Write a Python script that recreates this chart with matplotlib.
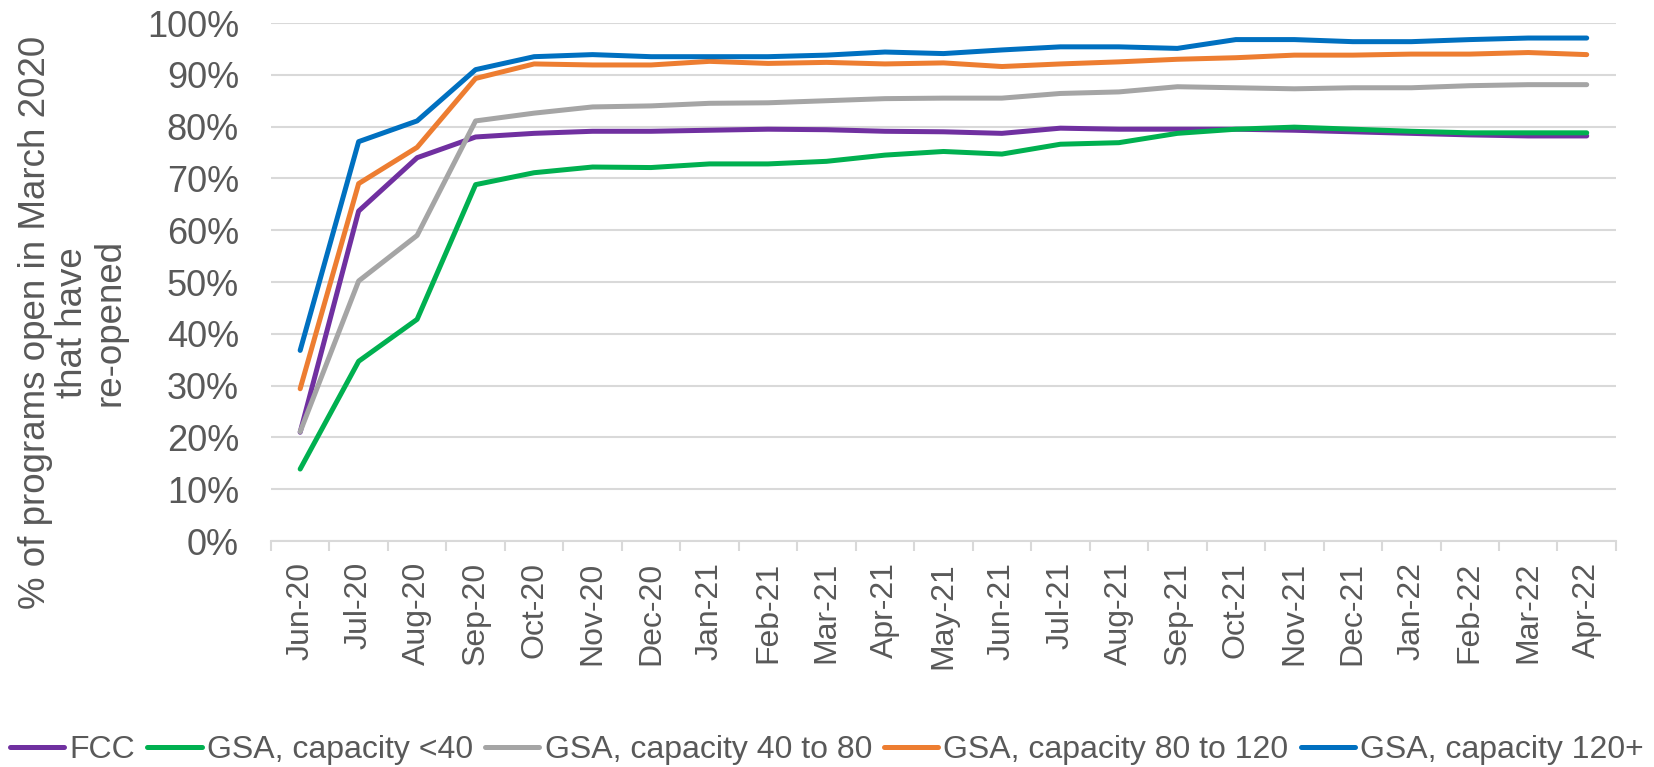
import matplotlib
matplotlib.use("Agg")
import matplotlib.pyplot as plt
from matplotlib.ticker import PercentFormatter, FixedLocator

plt.rcParams['font.family'] = ['Liberation Sans', 'DejaVu Sans']

months = ['Jun-20', 'Jul-20', 'Aug-20', 'Sep-20', 'Oct-20', 'Nov-20', 'Dec-20',
          'Jan-21', 'Feb-21', 'Mar-21', 'Apr-21', 'May-21', 'Jun-21', 'Jul-21',
          'Aug-21', 'Sep-21', 'Oct-21', 'Nov-21', 'Dec-21', 'Jan-22', 'Feb-22',
          'Mar-22', 'Apr-22']

# % of programs re-opened, per series
fcc = [21.0, 63.7, 74.0, 78.0, 78.7, 79.1, 79.1, 79.3, 79.5, 79.4, 79.1, 79.0,
       78.7, 79.7, 79.5, 79.5, 79.5, 79.3, 79.0, 78.7, 78.4, 78.2, 78.2]
gsa_lt40 = [13.9, 34.7, 42.8, 68.8, 71.1, 72.2, 72.1, 72.8, 72.8, 73.3, 74.5, 75.2,
            74.7, 76.6, 76.9, 78.7, 79.5, 79.9, 79.5, 79.1, 78.8, 78.8, 78.8]
gsa_40_80 = [21.1, 50.2, 59.0, 81.1, 82.6, 83.8, 84.0, 84.5, 84.6, 85.0, 85.4, 85.5,
             85.5, 86.4, 86.7, 87.7, 87.5, 87.3, 87.5, 87.5, 87.9, 88.1, 88.1]
gsa_80_120 = [29.4, 69.0, 76.0, 89.3, 92.1, 91.9, 91.9, 92.6, 92.2, 92.4, 92.1, 92.3,
              91.6, 92.1, 92.5, 93.0, 93.3, 93.8, 93.8, 94.0, 94.0, 94.3, 93.9]
gsa_120 = [36.8, 77.1, 81.1, 91.0, 93.5, 93.9, 93.5, 93.5, 93.5, 93.8, 94.4, 94.1,
           94.8, 95.4, 95.4, 95.1, 96.8, 96.8, 96.4, 96.4, 96.8, 97.1, 97.1]

series = [
    ('FCC', fcc, '#7030A0'),
    ('GSA, capacity <40', gsa_lt40, '#00B050'),
    ('GSA, capacity 40 to 80', gsa_40_80, '#A5A5A5'),
    ('GSA, capacity 80 to 120', gsa_80_120, '#ED7D31'),
    ('GSA, capacity 120+', gsa_120, '#0070C0'),
]

text_col = '#595959'
grid_col = '#D9D9D9'

fig = plt.figure(figsize=(16.54, 7.67), dpi=100)
ax = fig.add_axes([0.1638, 0.2946, 0.8132, 0.6754])

x = list(range(len(months)))
for name, vals, col in series:
    ax.plot(x, [v / 100 for v in vals], color=col, lw=3.6, label=name,
            solid_capstyle='round', solid_joinstyle='round')

ax.set_xlim(-0.5, len(months) - 0.5)
ax.set_ylim(0, 1)
ax.set_yticks([i / 10 for i in range(11)])
ax.yaxis.set_major_formatter(PercentFormatter(1.0, decimals=0))
ax.grid(axis='y', color=grid_col, lw=1.5)
ax.set_axisbelow(True)

ax.set_xticks(x)
ax.set_xticklabels(months, rotation=90)
ax.xaxis.set_minor_locator(FixedLocator([i - 0.5 for i in range(len(months) + 1)]))
ax.tick_params(axis='x', which='major', length=0, pad=15, labelsize=23, labelcolor=text_col)
ax.tick_params(axis='x', which='minor', length=7, width=1.5, color=grid_col, direction='out')
ax.tick_params(axis='y', length=0, pad=23, labelsize=26, labelcolor=text_col)

for s in ['top', 'right', 'left']:
    ax.spines[s].set_visible(False)
ax.spines['bottom'].set_color(grid_col)
ax.spines['bottom'].set_linewidth(1.5)

fig.text(0.044, 0.58, '% of programs open in March 2020\nthat have\nre-opened',
         rotation=90, ha='center', va='center', multialignment='center',
         fontsize=26.5, color=text_col, linespacing=1.1)

fig.legend(loc='center', bbox_to_anchor=(0.5, 0.022), ncol=5, frameon=False,
           fontsize=23, handlelength=1.7, handletextpad=0.16, columnspacing=0.38,
           labelcolor=text_col, borderaxespad=0, borderpad=0)

fig.savefig('out.png', dpi=100)
